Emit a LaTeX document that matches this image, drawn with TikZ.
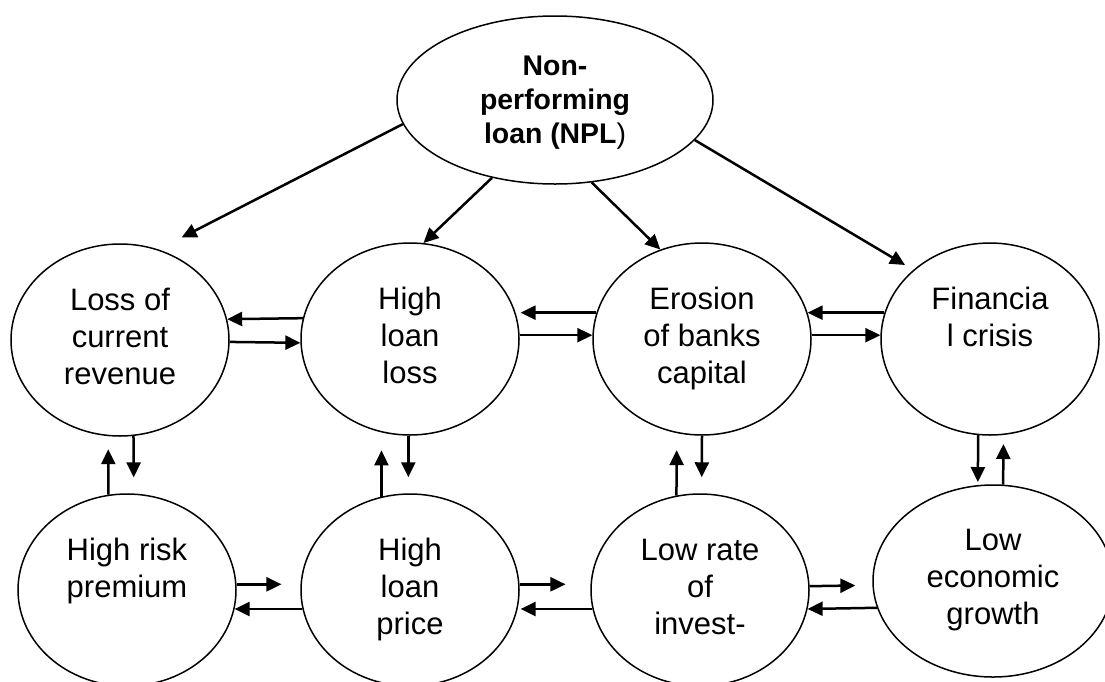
\documentclass[tikz,border=0pt]{standalone}
\usepackage{fontspec}
\setmainfont{Liberation Sans}
\usetikzlibrary{arrows.meta,shapes.geometric}
\newcommand\bodyfont{\fontsize{31}{37}\selectfont}
\newcommand\topfont{\fontsize{28.4}{34}\selectfont\bfseries}
\newcommand\lines[1]{\begin{tabular}[t]{@{}c@{}}#1\end{tabular}}
\tikzset{
  bubble/.style={draw, ellipse, line width=1.5pt, minimum width=218pt, minimum height=192pt, inner sep=0pt},
  btext/.style={anchor=base, inner sep=0pt, font=\bodyfont},
  link/.style={line width=2.5pt, -{Triangle[length=15pt,width=14pt]}},
}
\begin{document}
\begin{tikzpicture}[x=1pt,y=-1pt]
\clip (0,0) rectangle (1105,681);
\fill[white] (0,0) rectangle (1105,681);

% ellipses
\node[bubble, minimum width=316pt, minimum height=168pt] (npl) at (555,100) {};
\node[bubble] (loss) at (120,340) {};
\node[bubble] (hll)  at (410,339) {};
\node[bubble] (ero)  at (702,339) {};
\node[bubble] (fin)  at (990,339) {};
\node[bubble] (hrp)  at (127,590) {};
\node[bubble] (hlp)  at (410,590) {};
\node[bubble] (lri)  at (700,590) {};
\node[bubble, minimum width=240pt] (leg) at (993,581) {};

% texts
\node[btext, font=\topfont] (tnpl) at ([yshift=25pt]npl.center) {\lines{Non-\\performing\\loan (NPL\textmd{)}}};
\node[btext] (tloss) at ([yshift=30pt]loss.center) {\lines{Loss of\\current\\revenue}};
\node[btext] (thll)  at ([yshift=30pt]hll.center)  {\lines{High\\loan\\loss}};
\node[btext] (tero)  at ([yshift=30pt]ero.center)  {\lines{Erosion\\of banks\\capital}};
\node[btext] (tfin)  at ([yshift=30pt]fin.center)  {\lines{Financia\\l crisis}};
\node[btext] (thrp)  at ([yshift=30pt]hrp.center)  {\lines{High risk\\premium}};
\node[btext] (thlp)  at ([yshift=30pt]hlp.center)  {\lines{High\\loan\\price}};
\node[btext] (tlri)  at ([yshift=30pt]lri.center)  {\lines{Low rate\\of\\invest-}};
\node[btext] (tleg)  at ([yshift=31pt]leg.center)  {\lines{Low\\economic\\growth}};

% arrows from NPL
\draw[link, shorten >=26pt] (npl.189) -- (loss.67);
\draw[link] (npl.231) -- (hll.82);
\draw[link] (npl.294) -- (ero.115);
\draw[link, shorten >=9.5pt] (npl.344) -- (fin.138);

% row 1 horizontal
\draw[link] (hll.169) -- (loss.11);
\draw[link] (loss.359) -- (hll.182);
\draw[link, shorten >=5pt] (ero.166) -- (hll.14);
\draw[link] (hll.2) -- (ero.178);
\draw[link] (fin.166) -- (ero.14);
\draw[link] (ero.2) -- (fin.178);

% vertical
\draw[link, shorten >=16pt] (loss.278) -- (hrp.86);
\draw[link, shorten >=13pt] (hrp.101) -- (loss.263);
\draw[link, shorten >=16pt] (hll.269) -- (hlp.91);
\draw[link, shorten >=18pt] (hlp.107) -- (hll.253);
\draw[link, shorten >=16pt] (ero.270) -- (lri.89);
\draw[link, shorten >=17pt] (lri.104) -- (ero.255);
\draw[link, shorten >=3pt] (fin.263) -- (leg.99);
\draw[link, shorten >=9pt] (leg.84) -- (fin.278);

% row 2 horizontal
\draw[link, shorten >=19pt] (hrp.3) -- (hlp.177);
\draw[link] (hlp.190) -- (hrp.350);
\draw[link, shorten >=25pt] (hlp.3) -- (lri.177);
\draw[link, shorten >=3pt] (lri.190) -- (hlp.350);
\draw[link, shorten >=17pt] (lri.2) -- (leg.182);
\draw[link] (leg.193) -- (lri.350);
\end{tikzpicture}
\end{document}
